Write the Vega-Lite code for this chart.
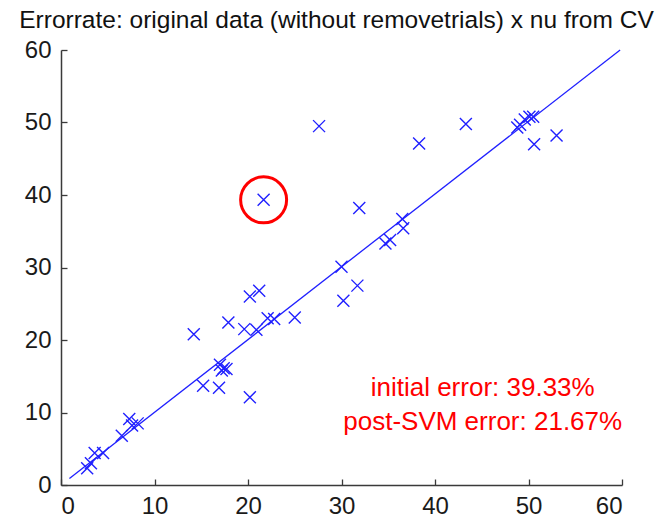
{
  "$schema": "https://vega.github.io/schema/vega-lite/v6.json",
  "width": 561,
  "height": 435,
  "autosize": {"type": "none"},
  "padding": {"left": 61, "top": 50, "right": 46, "bottom": 37},
  "background": "white",
  "config": {
    "view": {"stroke": null},
    "font": "Liberation Sans",
    "axis": {
      "grid": false,
      "domainColor": "#3a3a3a",
      "domainWidth": 1.5,
      "tickColor": "#3a3a3a",
      "tickWidth": 1.3,
      "tickSize": -6,
      "labelFont": "Liberation Sans",
      "labelFontSize": 24,
      "labelColor": "#1a1a1a",
      "title": null
    },
    "title": {"font": "Liberation Sans", "fontSize": 24.5, "fontWeight": "normal", "color": "#111", "anchor": "middle", "baseline": "alphabetic", "offset": 22, "dy": 17, "dx": -5}
  },
  "title": "Errorrate: original data (without removetrials) x nu from CV",
  "datasets": {
    "points": [
      {"x": 2.8, "y": 2.3}, {"x": 3.2, "y": 3.0}, {"x": 3.6, "y": 4.4}, {"x": 4.5, "y": 4.4},
      {"x": 6.5, "y": 6.8}, {"x": 7.3, "y": 9.1}, {"x": 7.6, "y": 8.2}, {"x": 8.2, "y": 8.5},
      {"x": 14.2, "y": 20.8}, {"x": 15.2, "y": 13.7}, {"x": 16.9, "y": 13.4},
      {"x": 17.0, "y": 16.6}, {"x": 17.4, "y": 16.1}, {"x": 17.7, "y": 16.0}, {"x": 17.2, "y": 15.8},
      {"x": 17.9, "y": 22.4}, {"x": 19.6, "y": 21.5}, {"x": 20.9, "y": 21.4},
      {"x": 20.2, "y": 26.0}, {"x": 21.2, "y": 26.8}, {"x": 22.1, "y": 23.0}, {"x": 22.8, "y": 22.9},
      {"x": 25.0, "y": 23.1}, {"x": 20.2, "y": 12.1}, {"x": 27.6, "y": 49.5}, {"x": 21.67, "y": 39.33},
      {"x": 31.9, "y": 38.2}, {"x": 34.7, "y": 33.3}, {"x": 35.2, "y": 33.8}, {"x": 30.0, "y": 30.1},
      {"x": 31.7, "y": 27.5}, {"x": 30.2, "y": 25.4}, {"x": 36.5, "y": 36.7}, {"x": 36.6, "y": 35.4},
      {"x": 38.3, "y": 47.1}, {"x": 43.3, "y": 49.8}, {"x": 48.8, "y": 49.3}, {"x": 49.1, "y": 49.7},
      {"x": 49.6, "y": 50.4}, {"x": 50.1, "y": 50.8}, {"x": 50.5, "y": 50.8}, {"x": 50.6, "y": 47.0},
      {"x": 53.0, "y": 48.2}
    ],
    "fit": [{"x": 0.9, "y": 0.9}, {"x": 59.8, "y": 60.0}],
    "highlight": [{"x": 21.67, "y": 39.33}],
    "notes": [
      {"x": 45.1, "y": 13.4, "label": "initial error: 39.33%"},
      {"x": 45.1, "y": 8.7, "label": "post-SVM error: 21.67%"}
    ]
  },
  "encoding": {
    "x": {"field": "x", "type": "quantitative", "scale": {"domain": [0, 60], "nice": false}, "axis": {"values": [0, 10, 20, 30, 40, 50, 60], "labelPadding": 15}},
    "y": {"field": "y", "type": "quantitative", "scale": {"domain": [0, 60], "nice": false}, "axis": {"values": [0, 10, 20, 30, 40, 50, 60], "labelPadding": 16}}
  },
  "layer": [
    {
      "data": {"name": "fit"},
      "mark": {"type": "line", "color": "#2020ff", "strokeWidth": 1.3, "clip": false}
    },
    {
      "data": {"name": "points"},
      "mark": {"type": "point", "shape": "M-1,-1L1,1M1,-1L-1,1", "filled": false, "stroke": "#2020ff", "strokeWidth": 1.4, "size": 144, "opacity": 1}
    },
    {
      "data": {"name": "highlight"},
      "mark": {"type": "point", "shape": "circle", "filled": false, "stroke": "#ff0000", "strokeWidth": 3, "size": 2116, "opacity": 1}
    },
    {
      "data": {"name": "notes"},
      "mark": {"type": "text", "color": "#ff0000", "fontSize": 26, "font": "Liberation Sans", "align": "center", "baseline": "middle"},
      "encoding": {"text": {"field": "label", "type": "nominal"}}
    }
  ]
}
